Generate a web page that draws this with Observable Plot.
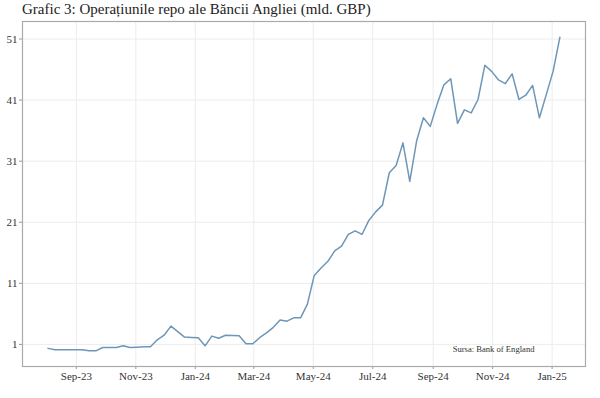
<!DOCTYPE html>
<html>
<head>
<meta charset="utf-8">
<script src="https://cdn.jsdelivr.net/npm/d3@7"></script>
<script src="https://cdn.jsdelivr.net/npm/@observablehq/plot@0.6"></script>
<style>
  html, body { margin: 0; padding: 0; background: white; }
  #title { font-family: "Liberation Serif", serif; font-size: 15px; color: #222; height: 18px; line-height: 18px; padding-left: 22px; white-space: nowrap; }
</style>
</head>
<body>
<div id="title">Grafic 3: Operațiunile repo ale Băncii Angliei (mld. GBP)</div>
<div id="chart"></div>
<script>
// Weekly observations starting Thursday 3 Aug 2023
const startDate = "2023-08-03";
const values = [
  0.35, 0.12, 0.12, 0.12, 0.12, 0.12, -0.05, -0.05, 0.5, 0.5,
  0.5, 0.77, 0.5, 0.55, 0.6, 0.6, 1.75, 2.5, 4.0, 3.1,
  2.2, 2.15, 2.1, 0.77, 2.36, 2.0, 2.5, 2.45, 2.4, 1.1,
  1.1, 2.1, 2.9, 3.8, 5.0, 4.8, 5.35, 5.35, 7.6, 12.3,
  13.5, 14.6, 16.3, 17.1, 19.0, 19.6, 19.0, 21.3, 22.7, 23.8,
  29.1, 30.3, 34.0, 27.7, 34.3, 38.1, 36.7, 40.3, 43.5, 44.5,
  37.2, 39.4, 38.9, 41.1, 46.7, 45.7, 44.3, 43.7, 45.3, 41.1,
  41.8, 43.4, 38.1, 41.9, 45.7, 51.3
];
const yTicks = [1, 11, 21, 31, 41, 51];
const xTickLabels = ["2023-09-01","2023-11-01","2024-01-01","2024-03-01","2024-05-01","2024-07-01","2024-09-01","2024-11-01","2025-01-01"];
const caption = "Sursa: Bank of England";
const lineColor = "#6e96b8";

const start = new Date(startDate + "T00:00:00Z");
const data = values.map((v, i) => ({date: d3.utcDay.offset(start, 7 * i), value: v}));
const xTicks = xTickLabels.map(s => new Date(s + "T00:00:00Z"));

// ggplot-style 5% expansion
const [d0, d1] = d3.extent(data, d => d.date);
const dx = (d1 - d0) * 0.05;
const [v0, v1] = d3.extent(values);
const dy = (v1 - v0) * 0.05;

const chart = Plot.plot({
  width: 600,
  height: 380,
  marginLeft: 22,
  marginRight: 15,
  marginTop: 3,
  marginBottom: 32,
  style: {fontFamily: "Liberation Serif, serif", fontSize: "11px", color: "#333", background: "white"},
  x: {type: "utc", domain: [new Date(+d0 - dx), new Date(+d1 + dx)]},
  y: {domain: [v0 - dy, v1 + dy]},
  marks: [
    Plot.gridX(xTicks, {stroke: "#ececec", strokeOpacity: 1}),
    Plot.gridY(yTicks, {stroke: "#ececec", strokeOpacity: 1}),
    Plot.axisX(xTicks, {tickFormat: d3.utcFormat("%b-%y"), tickSize: 3, tickPadding: 3, stroke: "#999", label: null}),
    Plot.axisY(yTicks, {tickSize: 3, tickPadding: 2, stroke: "#999", label: null}),
    Plot.frame({stroke: "#aaa", strokeWidth: 1.2}),
    Plot.line(data, {x: "date", y: "value", stroke: lineColor, strokeWidth: 1.5}),
    Plot.text([caption], {text: d => d, frameAnchor: "bottom-right", dx: -51, dy: -15, fontSize: 8.6, fill: "#333"})
  ]
});
document.getElementById("chart").appendChild(chart);
</script>
</body>
</html>
